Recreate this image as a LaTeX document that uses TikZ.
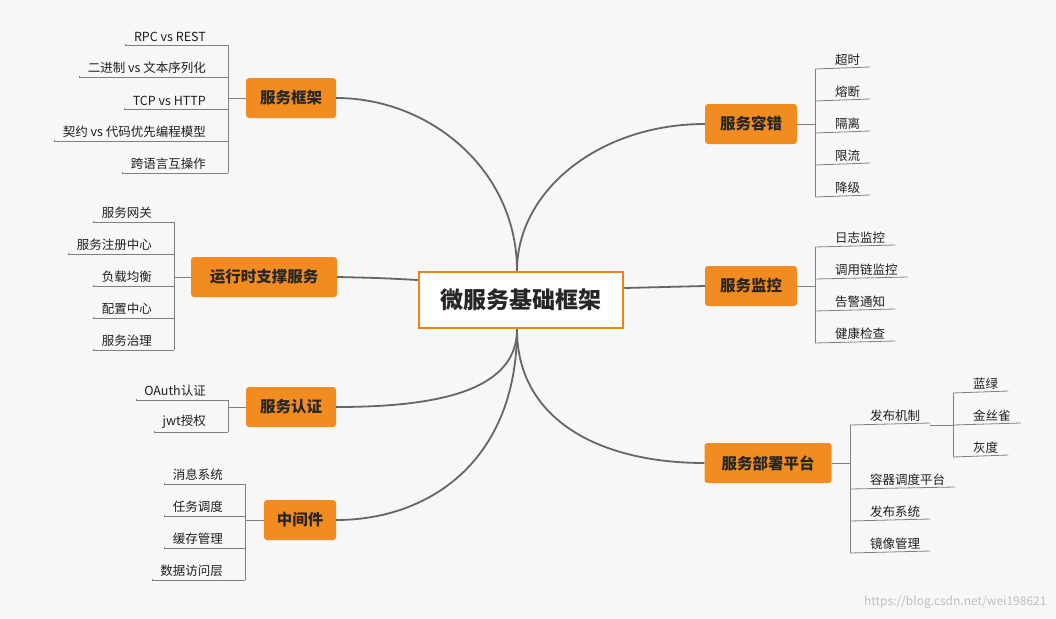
\documentclass[tikz,border=0pt]{standalone}
\usepackage{fontspec}
\setmainfont{Noto Sans CJK SC}
\definecolor{topicor}{RGB}{243,140,32}
\definecolor{mainor}{RGB}{240,130,20}
\begin{document}
\begin{tikzpicture}[x=1pt,y=-1pt,
  main/.style={draw=mainor,line width=2.5pt,fill=white,font=\fontsize{23}{26}\selectfont\bfseries,text=black!85,minimum width=204pt,minimum height=56pt},
  topic/.style={fill=topicor,rounded corners=3pt,font=\fontsize{15.5}{18}\selectfont\bfseries,text=black!85,minimum height=40pt,inner xsep=9pt},
  leaf/.style={font=\fontsize{12.5}{15}\selectfont,text=black!88,inner sep=2pt},
  br/.style={draw=black!60,line width=1.8pt},
  ln/.style={draw=black!50,line width=0.8pt}]
\fill[black!3] (0,0) rectangle (1056,618);
\useasboundingbox (0,0) rectangle (1056,618);
\node[main] (c) at (521,300) {微服务基础框架};
\node[topic,minimum width=90pt] (fw) at (291,98) {服务框架};
\node[topic,minimum width=146pt] (rt) at (264,277) {运行时支撑服务};
\node[topic,minimum width=90pt] (au) at (291,407) {服务认证};
\node[topic,minimum width=72pt] (mw) at (300,520) {中间件};
\node[topic,minimum width=92pt] (ft) at (751,124) {服务容错};
\node[topic,minimum width=92pt] (mo) at (751,286) {服务监控};
\node[topic,minimum width=127pt] (dp) at (768,463) {服务部署平台};
% curves
\path[br] ([xshift=-4pt]c.north) .. controls (517,170) and (430,98) .. (fw.east);
\path[br] ([yshift=20pt]c.west) .. controls (380,278) .. (rt.east);
\path[br] ([xshift=-4pt]c.south) .. controls (517,390) and (440,407) .. (au.east);
\path[br] ([xshift=-4pt]c.south) .. controls (517,460) and (430,520) .. (mw.east);
\path[br] ([xshift=-4pt]c.north) .. controls (517,190) and (600,124) .. (ft.west);
\path[br] ([yshift=12pt]c.east) .. controls (665,287) .. (mo.west);
\path[br] ([xshift=-4pt]c.south) .. controls (517,420) and (600,463) .. (dp.west);
% leaves
\newcommand{\lleaf}[4]{\node[leaf,anchor=south east] (#1) at (#2-20,#3-1) {#4};
  \path[ln] ([xshift=-6pt]#1.south west) -- ++(0,1) -| (#2,#3);}
\newcommand{\rleaf}[4]{\node[leaf,anchor=south west] (#1) at (#2+18,#3-1) {#4};
  \path[ln] (#2,#3) -- ([xshift=8pt,yshift=1pt]#1.south east);}
\lleaf{a1}{228}{45}{RPC vs REST}
\lleaf{a2}{228}{77}{二进制 vs 文本序列化}
\lleaf{a3}{228}{109}{TCP vs HTTP}
\lleaf{a4}{228}{141}{契约 vs 代码优先编程模型}
\lleaf{a5}{228}{173}{跨语言互操作}
\path[ln] (228,45) -- (228,173); \path[ln] (228,98) -- (fw.west);
\lleaf{b1}{174}{222}{服务网关}
\lleaf{b2}{174}{254}{服务注册中心}
\lleaf{b3}{174}{286}{负载均衡}
\lleaf{b4}{174}{318}{配置中心}
\lleaf{b5}{174}{350}{服务治理}
\path[ln] (174,222) -- (174,350); \path[ln] (174,277) -- (rt.west);
\lleaf{c1}{228}{400}{OAuth认证}
\lleaf{c2}{228}{432}{jwt授权}
\path[ln] (228,400) -- (228,432); \path[ln] (228,407) -- (au.west);
\lleaf{d1}{245}{484}{消息系统}
\lleaf{d2}{245}{516}{任务调度}
\lleaf{d3}{245}{548}{缓存管理}
\lleaf{d4}{245}{580}{数据访问层}
\path[ln] (245,484) -- (245,580); \path[ln] (245,520) -- (mw.west);
\rleaf{e1}{815}{69}{超时}
\rleaf{e2}{815}{101}{熔断}
\rleaf{e3}{815}{133}{隔离}
\rleaf{e4}{815}{165}{限流}
\rleaf{e5}{815}{197}{降级}
\path[ln] (815,69) -- (815,197); \path[ln] (ft.east) -- (815,124);
\rleaf{f1}{815}{247}{日志监控}
\rleaf{f2}{815}{279}{调用链监控}
\rleaf{f3}{815}{311}{告警通知}
\rleaf{f4}{815}{343}{健康检查}
\path[ln] (815,247) -- (815,343); \path[ln] (mo.east) -- (815,286);
\rleaf{g1}{850}{425}{发布机制}
\rleaf{g2}{850}{489}{容器调度平台}
\rleaf{g3}{850}{521}{发布系统}
\rleaf{g4}{850}{553}{镜像管理}
\path[ln] (850,425) -- (850,553); \path[ln] (dp.east) -- (850,463);
\path[ln] (g1.south east) ++(8,1) -- (953,425);
\rleaf{h1}{953}{393}{蓝绿}
\rleaf{h2}{953}{425}{金丝雀}
\rleaf{h3}{953}{457}{灰度}
\path[ln] (953,393) -- (953,457);
\node[font=\fontsize{12}{14}\selectfont,text=black!25,anchor=south east] (wm) at (1050,612) {https://blog.csdn.net/wei198621};
\end{tikzpicture}
\end{document}
